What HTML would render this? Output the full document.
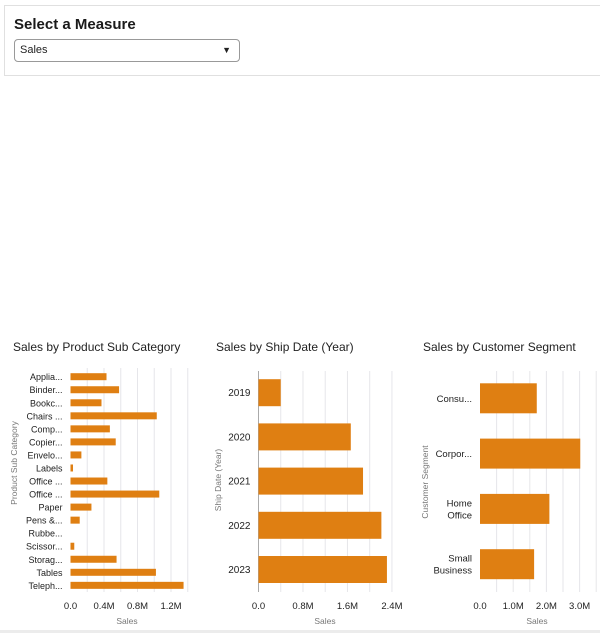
<!DOCTYPE html>
<html><head><meta charset="utf-8"><style>
body{margin:0;width:600px;height:633px;background:#fff;font-family:"Liberation Sans",sans-serif;overflow:hidden;position:relative}
#panel{position:absolute;left:4px;top:5px;width:600px;height:71px;border:1px solid #e0e0e0;box-sizing:border-box}
#ttl{position:absolute;left:9px;top:10px;font-size:15px;font-weight:bold;color:#1a1a1a}
#dd{position:absolute;left:9px;top:33px;width:226px;height:23px;border:1px solid #999;border-radius:4px;box-sizing:border-box;font-size:11px;line-height:21px;padding-left:5px;color:#222}
#dd span{position:absolute;right:8px;top:0;font-size:9px}
svg{position:absolute;left:0;top:0}
</style></head><body>
<div id="panel">
<div id="ttl">Select a Measure</div>
<div id="dd">Sales<span>▼</span></div>
</div>
<svg id="s" width="600" height="633"></svg>
<script>
const subCats=["Applia...","Binder...","Bookc...","Chairs ...","Comp...","Copier...","Envelo...","Labels","Office ...","Office ...","Paper","Pens &...","Rubbe...","Scissor...","Storag...","Tables","Teleph..."];
const subVals=[0.43,0.58,0.37,1.03,0.47,0.54,0.13,0.03,0.44,1.06,0.25,0.11,0,0.045,0.55,1.02,1.35];
const subTicks=[0,0.4,0.8,1.2];
const subTickLabels=["0.0","0.4M","0.8M","1.2M"];
const years=["2019","2020","2021","2022","2023"];
const yearVals=[0.40,1.66,1.88,2.21,2.31];
const yearTicks=[0,0.8,1.6,2.4];
const yearTickLabels=["0.0","0.8M","1.6M","2.4M"];
const segs=[["Consu..."],["Corpor..."],["Home","Office"],["Small","Business"]];
const segVals=[1.71,3.02,2.09,1.63];
const segTicks=[0,1,2,3];
const segTickLabels=["0.0","1.0M","2.0M","3.0M"];

const svg=document.getElementById('s');
const NS='http://www.w3.org/2000/svg';
function mk(t,a,txt){const e=document.createElementNS(NS,t);for(const k in a)e.setAttribute(k,a[k]);if(txt!=null)e.textContent=txt;svg.appendChild(e);return e;}

function chart(o){
  const x=v=>o.x0+v*o.pxPer;
  const y=i=>o.yc0+i*o.step;
  let t=mk('text',{x:o.titleX,y:351,'font-size':12,fill:'#222'},o.title);
  
  for(let g=o.gstep;g<=o.gmax+1e-9;g+=o.gstep){
    const l=mk('line',{x1:x(g),x2:x(g),y1:o.top,y2:o.bot,stroke:'#e6e6ea','stroke-width':1});
    
  }
  if(o.axisLine){const a=mk('line',{x1:o.x0,x2:o.x0,y1:o.top,y2:o.bot,stroke:'#aaa','stroke-width':1});
    }
  o.cats.forEach((c,i)=>{
    const r=mk('rect',{x:o.x0,y:y(i)-o.bh/2,width:Math.max(0,x(o.vals[i])-o.x0),height:o.bh,fill:'#df7f12'});
    
    const lines=Array.isArray(c)?c:[c];
    lines.forEach((ln,j)=>{
      const tt=mk('text',{x:o.x0-8,y:y(i)+3.5+(j-(lines.length-1)/2)*12,'font-size':o.fs,'text-anchor':'end',fill:'#222'},ln);
      
    });
  });
  o.ticks.forEach((v,i)=>{
    const tt=mk('text',{x:x(v),y:609,'font-size':9.5,'text-anchor':'middle',fill:'#222'},o.tickLabels[i]);
    
  });
  const xt=mk('text',{x:o.xtX,y:624,'font-size':8.5,'text-anchor':'middle',fill:'#777'},'Sales');
  
  const yt=mk('text',{x:0,y:0,'font-size':8.5,'text-anchor':'middle',fill:'#777',transform:`translate(${o.ytX},${o.ytY}) rotate(-90)`},o.ytitle);
  
}
chart({key:'subcat',title:'Sales by Product Sub Category',titleX:13,x0:70.5,pxPer:83.75,yc0:376.7,step:13.04,bh:7,fs:9,
  cats:subCats,vals:subVals,ticks:subTicks,tickLabels:subTickLabels,gstep:0.2,gmax:1.4,top:368,bot:592,axisLine:false,
  xtX:127,ytX:17,ytY:463,ytitle:'Product Sub Category'});
chart({key:'year',title:'Sales by Ship Date (Year)',titleX:216,x0:258.5,pxPer:55.6,yc0:392.7,step:44.2,bh:27,fs:10,
  cats:years,vals:yearVals,ticks:yearTicks,tickLabels:yearTickLabels,gstep:0.4,gmax:2.4,top:371,bot:592,axisLine:true,
  xtX:325,ytX:221,ytY:480,ytitle:'Ship Date (Year)'});
chart({key:'segment',title:'Sales by Customer Segment',titleX:423,x0:480,pxPer:33.2,yc0:398.3,step:55.3,bh:30,fs:9.5,
  cats:segs,vals:segVals,ticks:segTicks,tickLabels:segTickLabels,gstep:0.5,gmax:3.5,top:371,bot:592,axisLine:false,
  xtX:537,ytX:428,ytY:482,ytitle:'Customer Segment'});
const b=mk('rect',{x:0,y:630,width:600,height:3,fill:'#ececec'});

</script>
</body></html>
